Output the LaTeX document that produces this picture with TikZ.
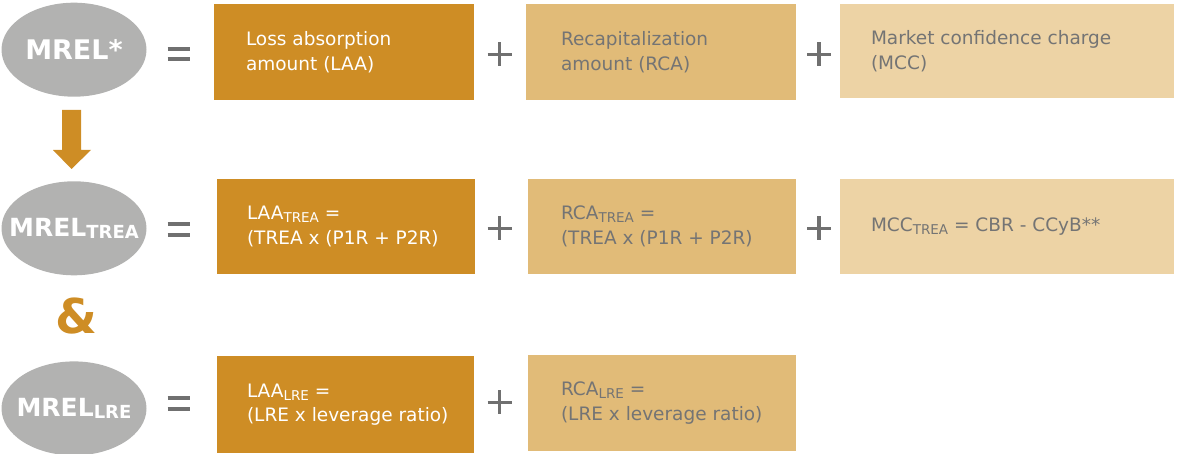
\documentclass[tikz,border=0pt]{standalone}
\usepackage{fontspec}
\setmainfont{DejaVu Sans}
\usetikzlibrary{shapes.geometric}
\definecolor{cdark}{RGB}{206,141,37}
\definecolor{cmid}{RGB}{225,187,120}
\definecolor{clight}{RGB}{237,211,165}
\definecolor{cell}{RGB}{178,178,177}
\definecolor{ctxt}{RGB}{116,116,116}
\definecolor{csym}{RGB}{112,112,112}
\newcommand\sbs[1]{\raisebox{-3pt}{\fontsize{13.5}{13.5}\selectfont #1}}
\newcommand\esb[1]{\raisebox{-1.5pt}{\fontsize{18}{18}\selectfont #1}}
\begin{document}
\begin{tikzpicture}[x=1pt,y=-1pt,
  box/.style={rectangle, draw=none, inner sep=0pt},
  txt/.style={anchor=west, align=left, inner sep=0pt, font=\fontsize{18.5}{24.5}\selectfont},
  wtxt/.style={txt, text=white},
  gtxt/.style={txt, text=ctxt},
  ell/.style={ellipse, fill=cell, inner sep=0pt, minimum width=145, minimum height=94, text=white, font=\bfseries\fontsize{25}{25}\selectfont},
  eqbar/.style={csym, line width=4pt},
  plusbar/.style={csym, line width=3.5pt}]
\useasboundingbox (0,0) rectangle (1177,454);
% ellipses
\node[ell] (m1) at (74,49.7) {\makebox[0pt][c]{\fontsize{27}{27}\selectfont MREL*}};
\node[ell] (m2) at (74,228.3) {\makebox[0pt][c]{MREL\esb{TREA}}};
\node[ell] (m3) at (74,408.4) {\makebox[0pt][c]{MREL\esb{LRE}}};
% arrow
\fill[cdark] (62,110) -- (81,110) -- (81,150) -- (91,150) -- (71.5,169) -- (53,150) -- (62,150) -- cycle;
% ampersand
\node[text=cdark, font=\bfseries\fontsize{48}{48}\selectfont, inner sep=0pt] (amp) at (76,316) {\&};
% row 1 boxes
\node[box, fill=cdark, minimum width=260, minimum height=96] (b11) at (344,52) {};
\node[box, fill=cmid, minimum width=270, minimum height=96] (b12) at (661,52) {};
\node[box, fill=clight, minimum width=334, minimum height=94] (b13) at (1007,51) {};
\node[wtxt] (t11) at ([xshift=32]b11.west) {Loss absorption\\amount (LAA)};
\node[gtxt] (t12) at ([xshift=35]b12.west) {Recapitalization\\amount (RCA)};
\node[gtxt] (t13) at ([xshift=31]b13.west) {Market confidence charge\\(MCC)};
% row 2 boxes
\node[box, fill=cdark, minimum width=258, minimum height=95] (b21) at (346,226.5) {};
\node[box, fill=cmid, minimum width=268, minimum height=95] (b22) at (662,226.5) {};
\node[box, fill=clight, minimum width=334, minimum height=95] (b23) at (1007,226.5) {};
\node[wtxt] (t21) at ([xshift=30]b21.west) {LAA\sbs{TREA} =\\(TREA x (P1R + P2R)};
\node[gtxt] (t22) at ([xshift=33]b22.west) {RCA\sbs{TREA} =\\(TREA x (P1R + P2R)};
\node[gtxt] (t23) at ([xshift=31]b23.west) {MCC\sbs{TREA} = CBR - CCyB**};
% row 3 boxes
\node[box, fill=cdark, minimum width=257, minimum height=97] (b31) at (345.5,404.5) {};
\node[box, fill=cmid, minimum width=268, minimum height=96] (b32) at (662,403) {};
\node[wtxt] (t31) at ([xshift=30]b31.west) {LAA\sbs{LRE} =\\(LRE x leverage ratio)};
\node[gtxt] (t32) at ([xshift=33]b32.west) {RCA\sbs{LRE} =\\(LRE x leverage ratio)};
% equals signs
\foreach \y in {54,229.7,403.7}{
  \draw[eqbar] (167.7,\y-5.3) -- (190,\y-5.3);
  \draw[eqbar] (167.7,\y+5.3) -- (190,\y+5.3);
}
% plus signs
\foreach \x/\y in {499.7/54.3, 819/54.3, 499.7/228.3, 819/228.3, 499.7/402.3}{
  \draw[plusbar] (\x-12,\y) -- (\x+12,\y);
  \draw[plusbar] (\x,\y-12) -- (\x,\y+12);
}
\end{tikzpicture}
\end{document}
